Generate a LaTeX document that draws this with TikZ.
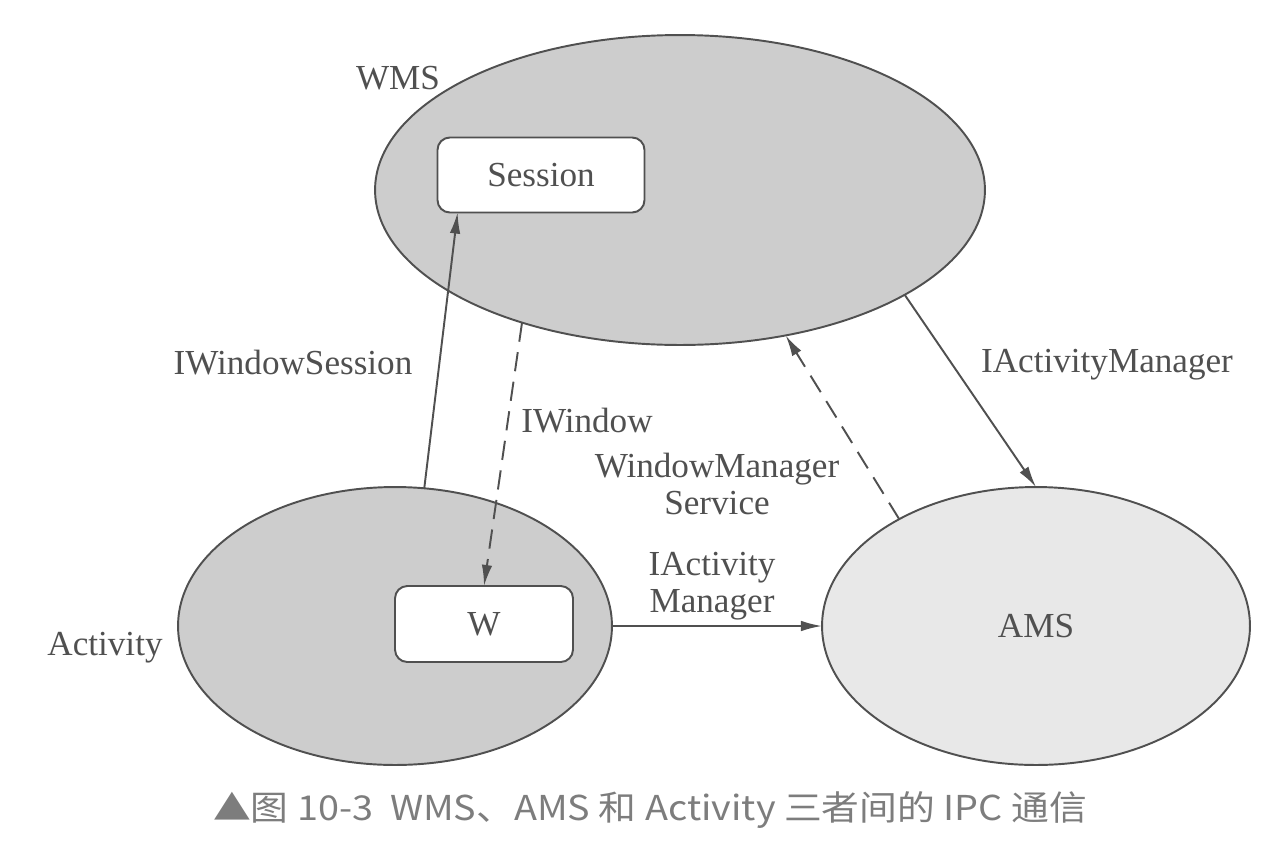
\documentclass[tikz,border=0pt]{standalone}
\usepackage{fontspec}
\setmainfont{Liberation Serif}
\newfontfamily\cjk{Noto Sans CJK SC}
\usepackage{graphicx}
\usetikzlibrary{arrows.meta,calc,shapes.geometric}
\definecolor{ink}{RGB}{80,80,80}
\definecolor{darkfill}{RGB}{205,205,205}
\definecolor{lightfill}{RGB}{232,232,232}
\definecolor{captiongray}{RGB}{125,125,125}
\tikzset{
  proc/.style={ellipse, draw=ink, line width=1.1pt, inner sep=0pt, outer sep=0pt},
  obj/.style={rectangle, rounded corners=7pt, draw=ink, fill=white, line width=1.1pt, inner sep=0pt, outer sep=0pt, text=ink, font=\fontsize{20}{21}\selectfont},
  lbl/.style={text=ink, font=\fontsize{20}{21}\selectfont, inner sep=0pt, align=center},
  conn/.style={draw=ink, line width=1.1pt, -{Latex[length=12pt,width=6pt]}},
  dconn/.style={conn, dash pattern=on 11pt off 6pt}
}
\begin{document}
\begin{tikzpicture}[x=0.02cm,y=-0.02cm]
\useasboundingbox (0,0) rectangle (1281,856);
% processes
\node[proc, fill=darkfill, minimum width=12.2cm, minimum height=6.2cm] (wms) at (680,190) {};
\node[proc, fill=darkfill, minimum width=8.68cm, minimum height=5.56cm] (act) at (395,626) {};
\node[proc, fill=lightfill, minimum width=8.56cm, minimum height=5.56cm, text=ink, font=\fontsize{20}{21}\selectfont] (ams) at (1036,626) {AMS};
% objects
\node[obj, minimum width=4.14cm, minimum height=1.5cm] (sess) at (541,175) {Session};
\node[obj, minimum width=3.56cm, minimum height=1.52cm] (w) at (484,624) {W};
% labels
\node[lbl] (lwms) at (398,78) {WMS};
\node[lbl] (lact) at (105,648) {Activity};
\node[lbl] (liws) at (293,363) {IWindowSession};
\node[lbl] (liw) at (587,421) {IWindow};
\node[lbl] (lwmsvc) at (717,484) {WindowManager\\Service};
\node[lbl] (liam) at (1107,365) {IActivityManager};
\node[lbl] (liam2) at (712,586) {IActivity\\Manager};
% connectors
\draw[conn] (act.78) -- ($(sess.south west)!0.097!(sess.south east)$);
\draw[dconn] (wms.220) -- (w.north);
\draw[dconn] (ams.142.5) -- (wms.306);
\draw[conn] (wms.335) -- (ams.north);
\draw[conn] (act.east) -- (ams.west);
% caption
\node[text=captiongray, inner sep=0pt] (cap) at (650,810) {\resizebox{17.48cm}{\height}{\cjk\fontsize{19.5}{20}\selectfont ▲图 10-3\ \ WMS、AMS 和 Activity 三者间的 IPC 通信}};
\end{tikzpicture}
\end{document}
